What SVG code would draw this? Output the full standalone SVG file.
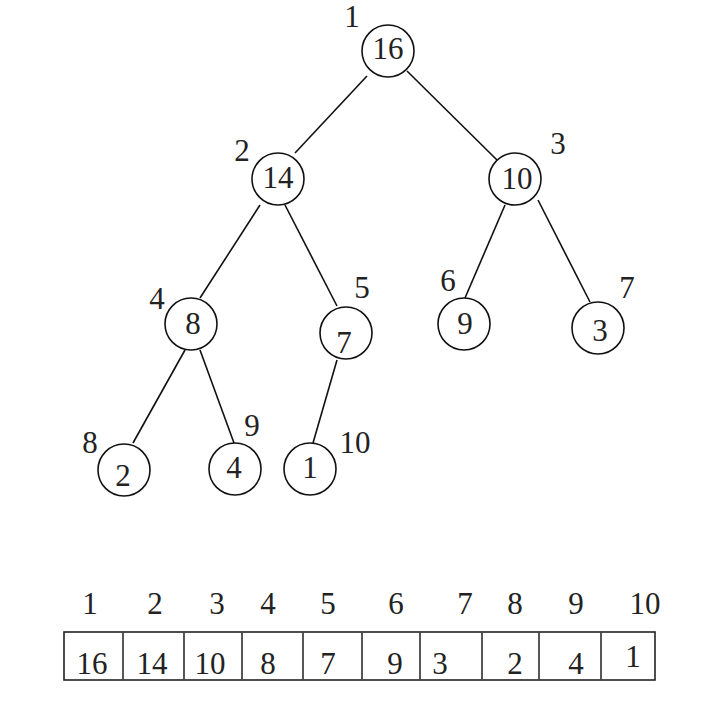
<svg xmlns="http://www.w3.org/2000/svg" width="708" height="702" viewBox="0 0 708 702">
<style>
  .node circle { fill: #ffffff; stroke: #111; stroke-width: 1.6; }
  text { font-family: 'Liberation Serif', 'DejaVu Serif', 'Times New Roman', serif; font-size: 31px; fill: #222; text-anchor: middle; }
  #connectors line { stroke: #111; stroke-width: 1.6; }
  .cell { fill: none; stroke: #222; stroke-width: 1.6; }
  .div { stroke: #444; stroke-width: 1.8; }
</style>
<rect width="708" height="702" fill="#ffffff"/>
<g id="connectors">
  <line x1="367" y1="76" x2="295" y2="153"/>
  <line x1="407" y1="71" x2="497" y2="160"/>
  <line x1="260" y1="205" x2="200" y2="298"/>
  <line x1="285" y1="205" x2="337" y2="306"/>
  <line x1="505" y1="205" x2="465" y2="298"/>
  <line x1="538" y1="200" x2="590" y2="302"/>
  <line x1="185" y1="350" x2="133" y2="443"/>
  <line x1="200" y1="350" x2="234" y2="443"/>
  <line x1="337" y1="360" x2="313" y2="443"/>
</g>
<g id="n1" class="node"><circle cx="388" cy="51" r="26"/><text x="388" y="59">16</text><text x="352" y="27">1</text></g>
<g id="n2" class="node"><circle cx="278" cy="179" r="26"/><text x="278" y="188">14</text><text x="242" y="161">2</text></g>
<g id="n3" class="node"><circle cx="515" cy="179" r="26"/><text x="517" y="189">10</text><text x="558" y="154">3</text></g>
<g id="n4" class="node"><circle cx="191" cy="324" r="26"/><text x="193" y="334">8</text><text x="157" y="309">4</text></g>
<g id="n5" class="node"><circle cx="346" cy="333" r="26"/><text x="344" y="353">7</text><text x="362" y="298">5</text></g>
<g id="n6" class="node"><circle cx="464" cy="324" r="26"/><text x="465" y="334">9</text><text x="448" y="291">6</text></g>
<g id="n7" class="node"><circle cx="598" cy="328" r="26"/><text x="600" y="341">3</text><text x="627" y="298">7</text></g>
<g id="n8" class="node"><circle cx="124" cy="470" r="26"/><text x="123" y="486">2</text><text x="90" y="453">8</text></g>
<g id="n9" class="node"><circle cx="235" cy="469" r="26"/><text x="234" y="478">4</text><text x="252" y="436">9</text></g>
<g id="n10" class="node"><circle cx="310" cy="469" r="26"/><text x="310" y="478">1</text><text x="355" y="453">10</text></g>
<g id="array">
  <rect class="cell" x="64" y="632" width="591" height="48"/>
  <line class="div" x1="123" y1="632" x2="123" y2="680"/>
  <line class="div" x1="184" y1="632" x2="184" y2="680"/>
  <line class="div" x1="242" y1="632" x2="242" y2="680"/>
  <line class="div" x1="303" y1="632" x2="303" y2="680"/>
  <line class="div" x1="362" y1="632" x2="362" y2="680"/>
  <line class="div" x1="420" y1="632" x2="420" y2="680"/>
  <line class="div" x1="482" y1="632" x2="482" y2="680"/>
  <line class="div" x1="539" y1="632" x2="539" y2="680"/>
  <line class="div" x1="601" y1="632" x2="601" y2="680"/>
  <text x="90" y="614">1</text>
  <text x="155" y="614">2</text>
  <text x="217" y="614">3</text>
  <text x="268" y="614">4</text>
  <text x="328" y="614">5</text>
  <text x="396" y="614">6</text>
  <text x="465" y="614">7</text>
  <text x="515" y="614">8</text>
  <text x="576" y="614">9</text>
  <text x="645" y="614">10</text>
  <text x="92" y="674">16</text>
  <text x="152" y="674">14</text>
  <text x="210" y="674">10</text>
  <text x="268" y="674">8</text>
  <text x="328" y="674">7</text>
  <text x="395" y="674">9</text>
  <text x="440" y="674">3</text>
  <text x="515" y="674">2</text>
  <text x="576" y="674">4</text>
  <text x="633" y="667">1</text>
</g>
</svg>
